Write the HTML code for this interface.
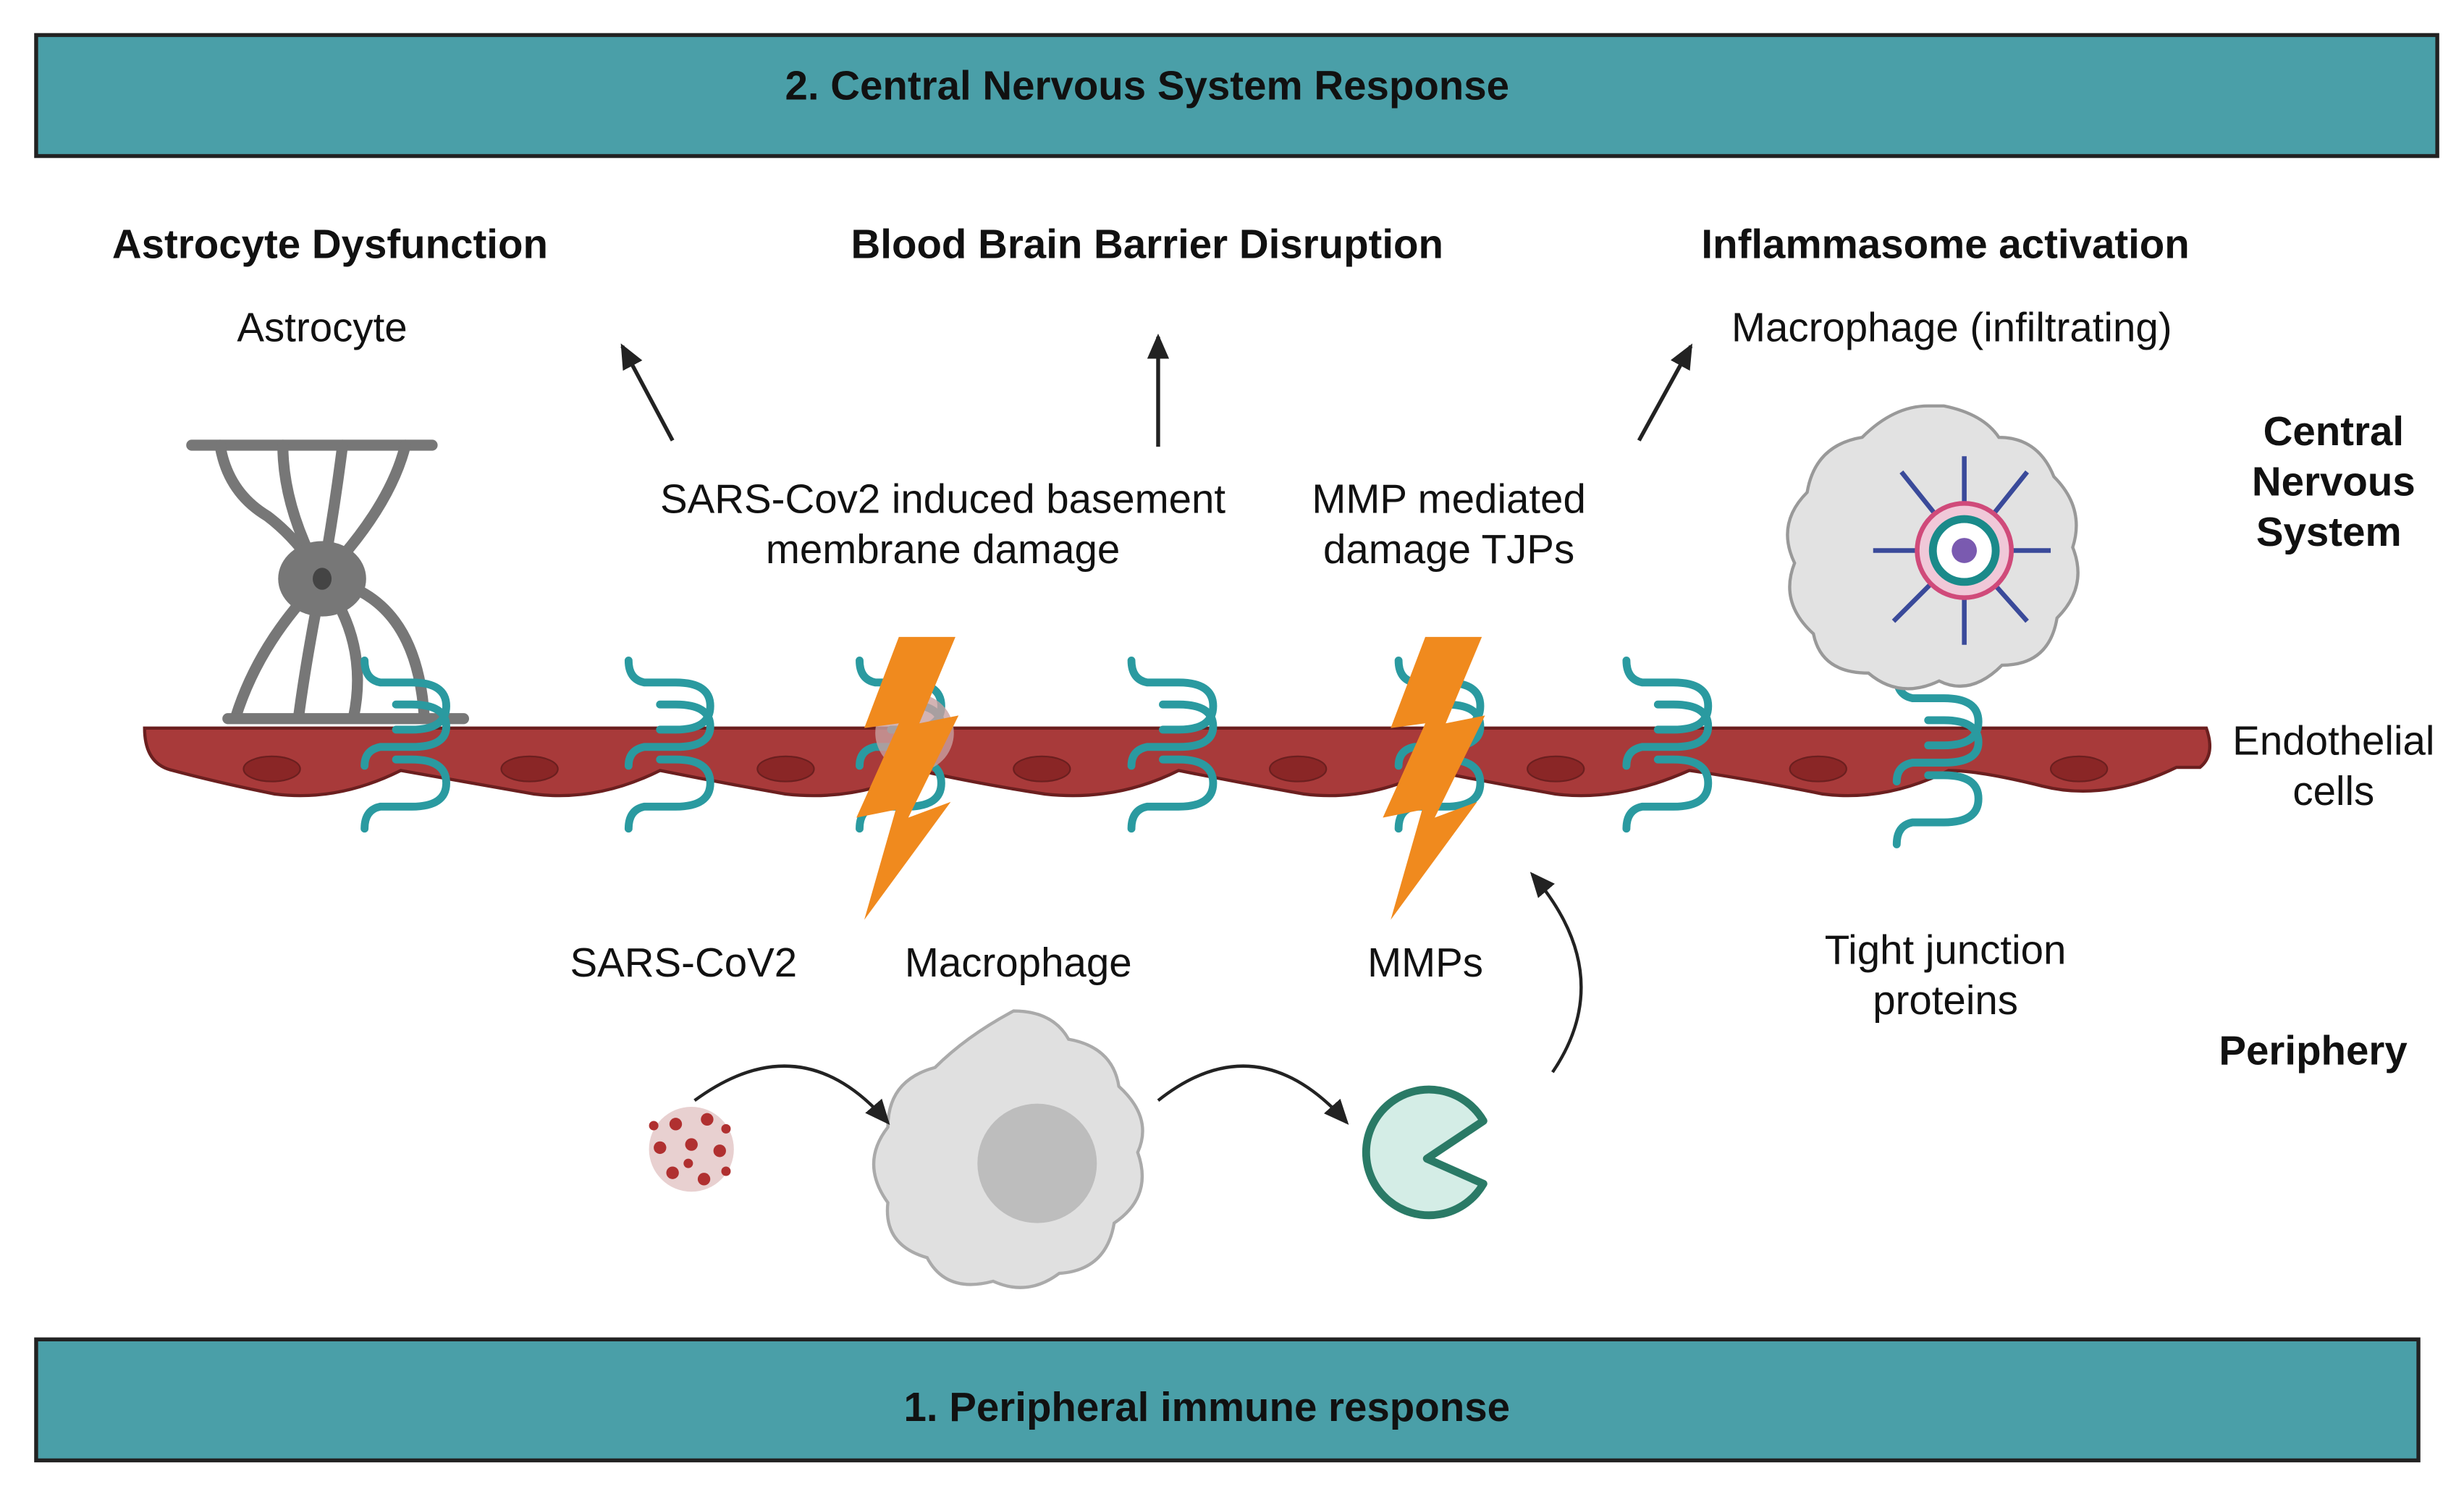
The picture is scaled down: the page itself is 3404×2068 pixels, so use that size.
<!DOCTYPE html>
<html><head><meta charset="utf-8"><style>
html,body{margin:0;padding:0;background:#fff;}
svg{display:block;}
text{font-family:"Liberation Sans",sans-serif;fill:#111;}
.b{font-weight:bold;font-size:26px;}
.r{font-size:26px;}
</style></head><body>
<svg width="3404" height="2068" viewBox="0 0 1568 952" xmlns="http://www.w3.org/2000/svg">
<defs>
<marker id="ah" markerWidth="10" markerHeight="10" refX="8" refY="5" orient="auto" markerUnits="userSpaceOnUse"><path d="M0,0 L10,5 L0,10 z" fill="#222"/></marker>
<marker id="ah2" markerWidth="16" markerHeight="14" refX="14" refY="7" orient="auto" markerUnits="userSpaceOnUse"><path d="M0,0 L16,7 L0,14 z" fill="#222"/></marker>
<g id="tjp" fill="none" stroke="#2a9aa0" stroke-width="5" stroke-linecap="round">
<path d="M-30,-45 q0,12 10,14 h20 q22,0 22,15 q0,15 -22,15 h-10"/>
<path d="M-30,22 q0,-10 10,-12 h20 q22,0 22,-13 q0,-14 -22,-14 h-10" transform="translate(0,0)"/>
<path d="M-30,62 q0,-12 10,-14 h20 q22,0 22,-15 q0,-15 -22,-15 h-10"/>
</g>
<g id="bolt"><path d="M22,0 L58,0 L35,55 L60,50 L28,115 L55,105 L0,180 L20,110 L-5,115 L22,55 L0,58 z" fill="#f08a1e"/></g>
</defs>
<rect x="0" y="0" width="1568" height="952" fill="#fff"/>
<!-- banners -->
<rect x="23" y="22" width="1528" height="77" fill="#4a9fa8" stroke="#222" stroke-width="2.5"/>
<text x="730" y="63" class="b" text-anchor="middle">2. Central Nervous System Response</text>
<rect x="23" y="852" width="1516" height="77" fill="#4a9fa8" stroke="#222" stroke-width="2.5"/>
<text x="768" y="904" class="b" text-anchor="middle">1. Peripheral immune response</text>
<!-- headers -->
<text x="210" y="164" class="b" text-anchor="middle">Astrocyte Dysfunction</text>
<text x="730" y="164" class="b" text-anchor="middle">Blood Brain Barrier Disruption</text>
<text x="1238" y="164" class="b" text-anchor="middle">Inflammasome activation</text>
<text x="205" y="217" class="r" text-anchor="middle">Astrocyte</text>
<text x="1242" y="217" class="r" text-anchor="middle">Macrophage (infiltrating)</text>
<g stroke="#222" stroke-width="2.5">
<line x1="428" y1="280" x2="396" y2="220" marker-end="url(#ah2)"/>
<line x1="737" y1="284" x2="737" y2="214" marker-end="url(#ah2)"/>
<line x1="1043" y1="280" x2="1076" y2="220" marker-end="url(#ah2)"/>
</g>
<text x="600" y="326" class="r" text-anchor="middle">SARS-Cov2 induced basement</text>
<text x="600" y="358" class="r" text-anchor="middle">membrane damage</text>
<text x="922" y="326" class="r" text-anchor="middle">MMP mediated</text>
<text x="922" y="358" class="r" text-anchor="middle">damage TJPs</text>
<text x="1485" y="283" class="b" text-anchor="middle">Central</text>
<text x="1485" y="315" class="b" text-anchor="middle">Nervous</text>
<text x="1482" y="347" class="b" text-anchor="middle">System</text>
<text x="1485" y="480" class="r" text-anchor="middle">Endothelial</text>
<text x="1485" y="512" class="r" text-anchor="middle">cells</text>
<text x="1472" y="677" class="b" text-anchor="middle">Periphery</text>
<!-- astrocyte -->
<g fill="none" stroke="#777" stroke-width="7" stroke-linecap="round">
<line x1="122" y1="283" x2="275" y2="283"/>
<path d="M140,283 q5,30 30,45 q20,15 35,40"/><path d="M180,283 q0,40 25,85"/><path d="M218,283 q-5,40 -13,85"/><path d="M258,283 q-10,40 -53,85"/>
<path d="M205,368 q-40,40 -55,88"/><path d="M205,368 q-10,50 -15,88"/><path d="M205,368 q30,40 20,88"/><path d="M205,368 q60,10 65,88"/>
<line x1="145" y1="457" x2="295" y2="457"/>
</g>
<ellipse cx="205" cy="368" rx="28" ry="24" fill="#777"/><ellipse cx="205" cy="368" rx="6" ry="7" fill="#444"/>
<!-- endothelium -->
<path d="M92,463 H1404 Q1410,480 1400,488 H1385 Q1340,510 1300,500 Q1260,490 1240,490 Q1200,510 1160,505 Q1110,495 1075,490 Q1030,510 990,505 Q950,498 910,490 Q870,510 830,505 Q790,498 750,490 Q710,510 665,505 Q620,498 585,490 Q545,510 500,505 Q460,498 420,490 Q380,510 340,505 Q300,498 255,490 Q215,510 175,505 Q140,498 110,490 Q92,486 92,463 z" fill="#a83a3a" stroke="#6b1f1f" stroke-width="2"/>
<g fill="#8a2626" stroke="#6b1f1f" stroke-width="1">
<ellipse cx="173" cy="489" rx="18" ry="8"/><ellipse cx="337" cy="489" rx="18" ry="8"/><ellipse cx="500" cy="489" rx="18" ry="8"/><ellipse cx="663" cy="489" rx="18" ry="8"/><ellipse cx="826" cy="489" rx="18" ry="8"/><ellipse cx="990" cy="489" rx="18" ry="8"/><ellipse cx="1157" cy="489" rx="18" ry="8"/><ellipse cx="1323" cy="489" rx="18" ry="8"/>
</g>
<use href="#tjp" x="262" y="465"/><use href="#tjp" x="430" y="465"/><use href="#tjp" x="577" y="465"/><use href="#tjp" x="750" y="465"/><use href="#tjp" x="920" y="465"/><use href="#tjp" x="1065" y="465"/><use href="#tjp" x="1237" y="475"/>
<circle cx="582" cy="466" r="25" fill="#c8a0a0" opacity="0.8"/>
<use href="#bolt" x="550" y="405"/><use href="#bolt" x="885" y="405"/>
<!-- infiltrating macrophage -->
<path d="M1237,258 q25,5 35,20 q25,0 35,25 q20,20 12,45 q10,25 -10,45 q-5,30 -35,30 q-20,20 -40,10 q-25,12 -45,-5 q-30,0 -35,-25 q-22,-20 -12,-45 q-12,-25 8,-45 q5,-30 35,-35 q20,-20 42,-20 z" fill="#e2e2e2" stroke="#999" stroke-width="2"/>
<g stroke="#3a4a9a" stroke-width="3">
<line x1="1250" y1="350" x2="1210" y2="300"/><line x1="1250" y1="350" x2="1290" y2="300"/><line x1="1250" y1="350" x2="1305" y2="350"/><line x1="1250" y1="350" x2="1290" y2="395"/><line x1="1250" y1="350" x2="1250" y2="410"/><line x1="1250" y1="350" x2="1205" y2="395"/><line x1="1250" y1="350" x2="1192" y2="350"/><line x1="1250" y1="350" x2="1250" y2="290"/>
</g>
<circle cx="1250" cy="350" r="30" fill="#f0c8d8" stroke="#d04a7a" stroke-width="3"/>
<circle cx="1250" cy="350" r="20" fill="#fff" stroke="#1a8a8a" stroke-width="5"/>
<circle cx="1250" cy="350" r="8" fill="#7a5ab0"/>
<!-- bottom labels -->
<text x="435" y="621" class="r" text-anchor="middle">SARS-CoV2</text>
<text x="648" y="621" class="r" text-anchor="middle">Macrophage</text>
<text x="907" y="621" class="r" text-anchor="middle">MMPs</text>
<text x="1238" y="613" class="r" text-anchor="middle">Tight junction</text>
<text x="1238" y="645" class="r" text-anchor="middle">proteins</text>
<!-- virus -->
<circle cx="440" cy="731" r="27" fill="#e8d0d0"/>
<g fill="#b03030">
<circle cx="430" cy="715" r="4"/><circle cx="450" cy="712" r="4"/><circle cx="420" cy="730" r="4"/><circle cx="440" cy="728" r="4"/><circle cx="458" cy="732" r="4"/><circle cx="428" cy="746" r="4"/><circle cx="448" cy="750" r="4"/><circle cx="438" cy="740" r="3"/><circle cx="462" cy="718" r="3"/><circle cx="416" cy="716" r="3"/><circle cx="462" cy="745" r="3"/>
</g>
<!-- macrophage -->
<path d="M645,643 q25,0 35,18 q28,5 32,30 q22,20 12,42 q10,28 -15,45 q-5,30 -35,32 q-20,15 -42,5 q-30,8 -42,-15 q-28,-8 -25,-35 q-18,-25 0,-48 q0,-30 30,-38 q20,-20 50,-36 z" fill="#e0e0e0" stroke="#aaa" stroke-width="2"/>
<circle cx="660" cy="740" r="38" fill="#bdbdbd"/>
<!-- pacman -->
<path d="M944,713 A40,40 0 1 0 944,753 L908,737 z" fill="#d4ede6" stroke="#2a7a66" stroke-width="5" stroke-linejoin="round"/>
<!-- curved arrows -->
<g fill="none" stroke="#222" stroke-width="2">
<path d="M442,700 Q510,650 565,714" marker-end="url(#ah2)"/>
<path d="M737,700 Q800,650 857,714" marker-end="url(#ah2)"/>
<path d="M988,682 Q1030,620 975,556" marker-end="url(#ah2)"/>
</g>
</svg>
</body></html>
